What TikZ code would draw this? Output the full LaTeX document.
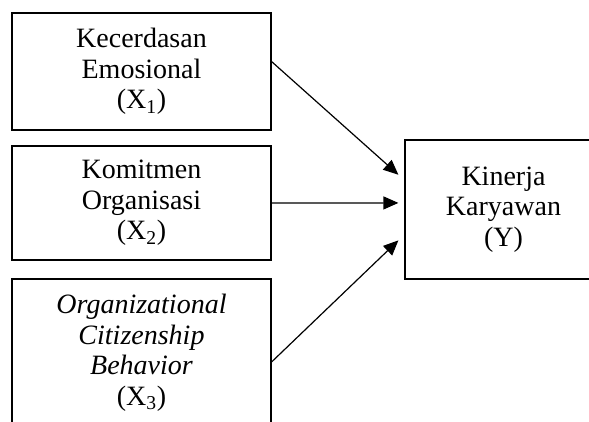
\documentclass[tikz,border=0pt]{standalone}
\usepackage{fontspec}
\setmainfont{Liberation Serif}
\usetikzlibrary{arrows.meta,calc}

\tikzset{
  vbox/.style={draw,line width=1.2pt,align=center,inner sep=0pt,
    font=\fontsize{28}{30.5}\selectfont},
  link/.style={line width=1.2pt,-{Triangle[length=15pt,width=13pt]}}
}

\begin{document}
\begin{tikzpicture}[x=1pt,y=-1pt]
    \useasboundingbox (0,0) rectangle (589,421) ;
    \clip (0,0) rectangle (589,421) ;

    \node[vbox,minimum width=259pt,minimum height=117pt] (x1) at (141.5,71.5)
      {Kecerdasan\\Emosional\\(X\textsubscript{1})} ;
    \node[vbox,minimum width=259pt,minimum height=114pt] (x2) at (141.5,203)
      {Komitmen\\Organisasi\\(X\textsubscript{2})} ;
    \node[vbox,minimum width=259pt,minimum height=148pt] (x3) at (141.5,353)
      {\textit{Organizational}\\\textit{Citizenship}\\\textit{Behavior}\\(X\textsubscript{3})} ;
    \node[vbox,minimum width=197pt,minimum height=139pt] (y) at (503.5,209.5)
      {Kinerja\\Karyawan\\(Y)} ;

    \draw[link] ($(x1.north east)!.416!(x1.south east)$)
      -- ($(y.north west)!.252!(y.south west)+(-6,0)$) ;
    \draw[link] (x2.east) -- ($(y.north west)!.453!(y.south west)+(-6,0)$) ;
    \draw[link] ($(x3.north east)!.56!(x3.south east)$)
      -- ($(y.north west)!.72!(y.south west)+(-6,0)$) ;
  \end{tikzpicture}
\end{document}
